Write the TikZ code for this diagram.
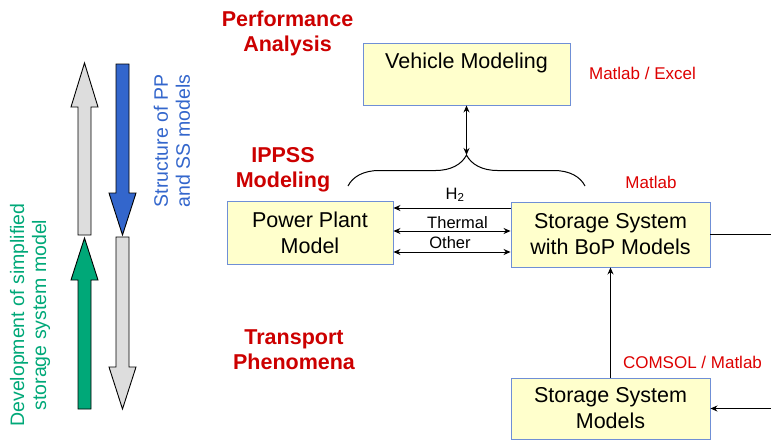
\documentclass[tikz,border=0pt]{standalone}
\usepackage{fontspec}
\setmainfont{Liberation Sans}
\usetikzlibrary{arrows.meta,decorations.pathreplacing}
\definecolor{hdred}{HTML}{CC0000}
\definecolor{lblred}{HTML}{DD0000}
\definecolor{boxfill}{HTML}{FFFFCC}
\definecolor{boxline}{HTML}{6F8FD6}
\definecolor{arrgray}{HTML}{DDDDDD}
\definecolor{arrblue}{HTML}{3366CC}
\definecolor{arrgreen}{HTML}{00A878}
\begin{document}
\begin{tikzpicture}[x=1pt,y=-1pt,
  box/.style={draw=boxline, fill=boxfill, line width=0.9pt, inner sep=0pt, align=center,
    font=\fontsize{21.5}{26}\selectfont},
  boxtext/.style={inner sep=0pt, align=center, font=\fontsize{21.5}{26}\selectfont},
  header/.style={inner sep=0pt, align=center, text=hdred, font=\bfseries\fontsize{21.5}{25}\selectfont},
  tool/.style={inner sep=0pt, text=lblred, font=\fontsize{17}{20}\selectfont},
  flowlbl/.style={inner sep=0pt, font=\fontsize{16.5}{20}\selectfont},
  conn/.style={line width=1pt, black},
  tip/.style={-{Stealth[length=7pt,width=6pt]}},
  dtip/.style={{Stealth[length=7pt,width=6pt]}-{Stealth[length=7pt,width=6pt]}},
  bigarrow/.style={draw=black, line width=0.9pt},
  sidetext/.style={inner sep=0pt, align=center, rotate=90, font=\fontsize{19.5}{22}\selectfont}
]
\useasboundingbox (0,0) rectangle (771,440);

% left big arrows
\filldraw[bigarrow, fill=arrgray] (78,235) -- (78,107) -- (71,107) -- (84.5,63) -- (98,107) -- (91,107) -- (91,235) -- cycle;
\filldraw[bigarrow, fill=arrgreen] (78,409) -- (78,280) -- (71,280) -- (84.5,238) -- (98,280) -- (91,280) -- (91,409) -- cycle;
\filldraw[bigarrow, fill=arrblue] (116,64) -- (116,193) -- (109,193) -- (122.5,235) -- (136,193) -- (129,193) -- (129,64) -- cycle;
\filldraw[bigarrow, fill=arrgray] (116,237) -- (116,367) -- (109,367) -- (122.5,409) -- (136,367) -- (129,367) -- (129,237) -- cycle;

\node[sidetext, text=arrgreen] (devtxt) at (30,315) {Development of simplified\\storage system model};
\node[sidetext, text=arrblue] (strtxt) at (172,141) {Structure of PP\\and SS models};

% headers
\node[header] (hperf) at (287.5,33) {Performance\\Analysis};
\node[header] (hipp) at (283,170) {IPPSS\\Modeling};
\node[header] (htrans) at (294,350) {Transport\\Phenomena};

% boxes
\node[box, minimum width=207pt, minimum height=62pt] (vm) at (466.5,74) {};
\node[boxtext] (vmtxt) at (466.5,63) {Vehicle Modeling};
\node[box, minimum width=166pt, minimum height=63pt] (pp) at (310,232.5) {Power Plant\\Model};
\node[box, minimum width=199pt, minimum height=65pt] (bop) at (610.5,234.5) {Storage System\\with BoP Models};
\node[box, minimum width=199pt, minimum height=61pt] (ssm) at (610.5,408.5) {Storage System\\Models};

% tool labels
\node[tool] (t1) at (642.5,73) {Matlab / Excel};
\node[tool] (t2) at (651,182) {Matlab};
\node[tool] (t3) at (692.5,362) {COMSOL / Matlab};

% brace and vehicle link
\coordinate (brl) at (348,186);
\coordinate (brr) at (585,186);
\coordinate (brtip) at (466.5,155);
\draw[conn, decorate, decoration={brace, amplitude=31pt}] (brl) -- (brr);
\draw[conn, dtip] (vm.south) -- (brtip);

% flows between PP and BoP
\path ([yshift=26.5pt]bop.west) coordinate (h2r);
\path ([yshift=3.5pt]bop.west) coordinate (thr);
\path ([yshift=-17.5pt]bop.west) coordinate (otr);
\draw[conn, tip] (h2r) -- (h2r -| pp.east);
\draw[conn, dtip] (thr) -- (thr -| pp.east);
\draw[conn, dtip] (otr) -- (otr -| pp.east);
\node[flowlbl] (lh2) at (455,195) {H\textsubscript{2}};
\node[flowlbl] (lth) at (457.5,222.5) {Thermal};
\node[flowlbl] (lot) at (450,242.5) {Other};

% right side links
\coordinate (redge) at (771,300);
\draw[conn] (bop.east) -- (bop.east -| redge);
\draw[conn, tip] (ssm.east -| redge) -- (ssm.east);
\draw[conn, tip] (ssm.north) -- (bop.south);
\end{tikzpicture}
\end{document}
